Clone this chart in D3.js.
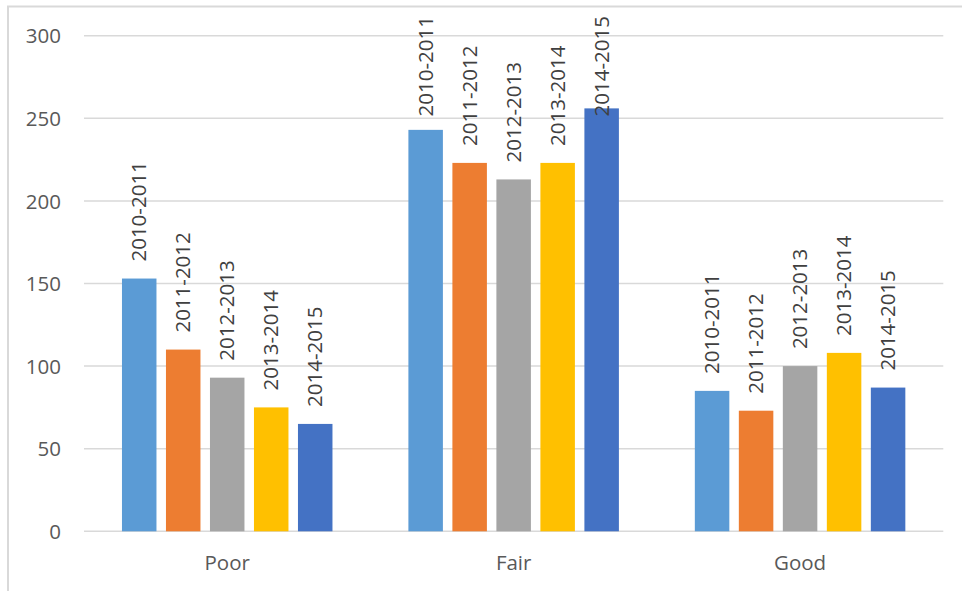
<!DOCTYPE html>
<html>
<head>
<meta charset="utf-8">
<script src="https://cdn.jsdelivr.net/npm/d3@7"></script>
<style>
  html, body { margin: 0; padding: 0; background: #fff; }
  svg { display: block; }
  text { font-family: "Open Sans", "Liberation Sans", sans-serif; }
</style>
</head>
<body>
<svg id="chart" width="962" height="591"></svg>
<script>
// Condition categories and the school-year series
const categories = ["Poor", "Fair", "Good"];
const seriesNames = ["2010-2011", "2011-2012", "2012-2013", "2013-2014", "2014-2015"];
const poorValues = [153, 110, 93, 75, 65];
const fairValues = [243, 223, 213, 223, 256];
const goodValues = [85, 73, 100, 108, 87];
const yTicks = [0, 50, 100, 150, 200, 250, 300];
const seriesColors = ["#5B9BD5", "#ED7D31", "#A5A5A5", "#FFC000", "#4472C4"];

const valuesByCategory = { Poor: poorValues, Fair: fairValues, Good: goodValues };
const rows = categories.map(c => ({
  category: c,
  values: seriesNames.map((s, i) => ({ series: s, value: valuesByCategory[c][i], idx: i }))
}));

const svg = d3.select("#chart");
const W = 962, H = 591;
const plot = { left: 84, right: 943.3, top: 35.7, bottom: 531.3 };

// Chart frame (only top and left edges fall inside the canvas)
svg.append("rect")
  .attr("x", 8).attr("y", 6.5)
  .attr("width", W + 20).attr("height", H + 20)
  .attr("fill", "none")
  .attr("stroke", "#d9d9d9")
  .attr("stroke-width", 2);

const y = d3.scaleLinear().domain([0, 300]).range([plot.bottom, plot.top]);
const x0 = d3.scaleBand().domain(categories).range([plot.left, plot.right]).padding(0);
const step = 44, barW = 34.5;
const pInner = (step - barW) / step;
const pOuter = (x0.bandwidth() - (seriesNames.length * step - (step - barW))) / 2 / step;
const x1 = d3.scaleBand().domain(seriesNames).range([0, x0.bandwidth()])
  .paddingInner(pInner).paddingOuter(pOuter);

// Horizontal gridlines
svg.append("g")
  .selectAll("line")
  .data(yTicks)
  .join("line")
  .attr("x1", plot.left).attr("x2", plot.right)
  .attr("y1", d => y(d)).attr("y2", d => y(d))
  .attr("stroke", "#d9d9d9")
  .attr("stroke-width", 1.5);

// Y axis tick labels
const yAxis = d3.axisLeft(y).tickValues(yTicks).tickSize(0).tickPadding(0);
const gy = svg.append("g").attr("transform", `translate(61,0)`).call(yAxis);
gy.select(".domain").remove();
gy.selectAll("text")
  .attr("fill", "#595959")
  .style("font-size", "20.5px")
  .attr("dy", "0.35em");

// Category labels
const xAxis = d3.axisBottom(x0).tickSize(0).tickPadding(0);
const gx = svg.append("g").attr("transform", `translate(0,570)`).call(xAxis);
gx.select(".domain").remove();
gx.selectAll("text")
  .attr("fill", "#595959")
  .style("font-size", "20.5px")
  .attr("dy", "0");

// Bars
const groups = svg.append("g")
  .selectAll("g")
  .data(rows)
  .join("g")
  .attr("transform", d => `translate(${x0(d.category)},0)`);

groups.selectAll("rect")
  .data(d => d.values)
  .join("rect")
  .attr("x", d => x1(d.series))
  .attr("width", x1.bandwidth())
  .attr("y", d => y(d.value))
  .attr("height", d => y(0) - y(d.value))
  .attr("fill", d => seriesColors[d.idx]);

// Rotated series labels above each bar, kept inside the chart area
const labelTop = 16, labelGap = 17;
groups.selectAll("text.lbl")
  .data(d => d.values)
  .join("text")
  .attr("class", "lbl")
  .text(d => d.series)
  .style("font-size", "20.5px")
  .attr("fill", "#404040")
  .each(function(d) {
    const len = this.getComputedTextLength();
    const cx = x1(d.series) + x1.bandwidth() / 2;
    const yStart = Math.max(y(d.value) - labelGap, labelTop + len);
    d3.select(this)
      .attr("transform", `translate(${cx},${yStart}) rotate(-90)`)
      .attr("dy", "0.35em");
  });
</script>
</body>
</html>
